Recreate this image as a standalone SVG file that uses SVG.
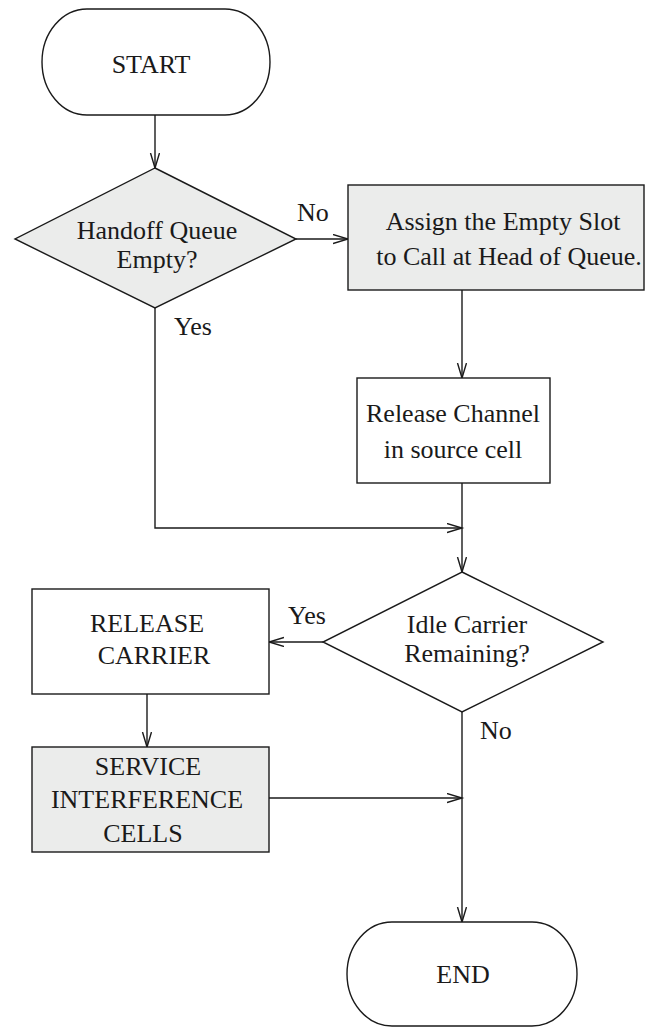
<svg xmlns="http://www.w3.org/2000/svg" width="645" height="1027" viewBox="0 0 645 1027">
<style>
.s{stroke:#1a1a1a;stroke-width:1.4;fill:#ffffff}
.g{fill:#ebeceb}
.t{font-family:"Liberation Serif","Times New Roman",serif;font-size:26px;fill:#1a1a1a;text-anchor:middle}
.l{font-family:"Liberation Serif","Times New Roman",serif;font-size:26px;fill:#1a1a1a}
.c{stroke:#1a1a1a;stroke-width:1.4;fill:none}
</style>
<defs>
<marker id="a" markerUnits="userSpaceOnUse" markerWidth="18" markerHeight="12" refX="15" refY="5" orient="auto">
<path d="M0,0.5 L15,5 L0,9.5" fill="none" stroke="#1a1a1a" stroke-width="1.4"/>
</marker>
</defs>
<rect width="645" height="1027" fill="#ffffff"/>
<g id="connectors">
<path class="c" d="M155,115 L155,168" marker-end="url(#a)"/>
<path class="c" d="M296,239 L348,239" marker-end="url(#a)"/>
<path class="c" d="M462,290 L462,378" marker-end="url(#a)"/>
<path class="c" d="M155,308 L155,528 L462,528" marker-end="url(#a)"/>
<path class="c" d="M462,483 L462,572" marker-end="url(#a)"/>
<path class="c" d="M323,642 L269,642" marker-end="url(#a)"/>
<path class="c" d="M147,694 L147,747" marker-end="url(#a)"/>
<path class="c" d="M269,798 L462,798" marker-end="url(#a)"/>
<path class="c" d="M462,712 L462,922" marker-end="url(#a)"/>
<text class="l" x="297" y="221">No</text>
<text class="l" x="174" y="335">Yes</text>
<text class="l" x="288" y="624">Yes</text>
<text class="l" x="480" y="739">No</text>
</g>
<g id="start">
<rect class="s" x="42" y="9" width="228" height="106" rx="45" ry="53"/>
<text class="t" x="151" y="73">START</text>
</g>
<g id="handoff-queue-empty">
<polygon class="s g" points="155,168 296,239 155,308 15,239"/>
<text class="t" x="157" y="239">Handoff Queue</text>
<text class="t" x="157" y="268">Empty?</text>
</g>
<g id="assign-slot">
<rect class="s g" x="348" y="185" width="296" height="105"/>
<text class="t" x="503" y="230">Assign the Empty Slot</text>
<text class="t" x="509" y="265">to Call at Head of Queue.</text>
</g>
<g id="release-channel">
<rect class="s" x="357" y="378" width="193" height="105"/>
<text class="t" x="453" y="422">Release Channel</text>
<text class="t" x="453" y="458">in source cell</text>
</g>
<g id="idle-carrier">
<polygon class="s" points="462,572 603,642 462,712 323,642"/>
<text class="t" x="467" y="633">Idle Carrier</text>
<text class="t" x="467" y="662">Remaining?</text>
</g>
<g id="release-carrier">
<rect class="s" x="32" y="589" width="237" height="105"/>
<text class="t" x="147" y="632">RELEASE</text>
<text class="t" x="154" y="664">CARRIER</text>
</g>
<g id="service-interference">
<rect class="s g" x="32" y="747" width="237" height="105"/>
<text class="t" x="148" y="775">SERVICE</text>
<text class="t" x="147" y="808">INTERFERENCE</text>
<text class="t" x="143" y="842">CELLS</text>
</g>
<g id="end">
<rect class="s" x="347" y="922" width="230" height="104" rx="45" ry="52"/>
<text class="t" x="463" y="983">END</text>
</g>
</svg>
